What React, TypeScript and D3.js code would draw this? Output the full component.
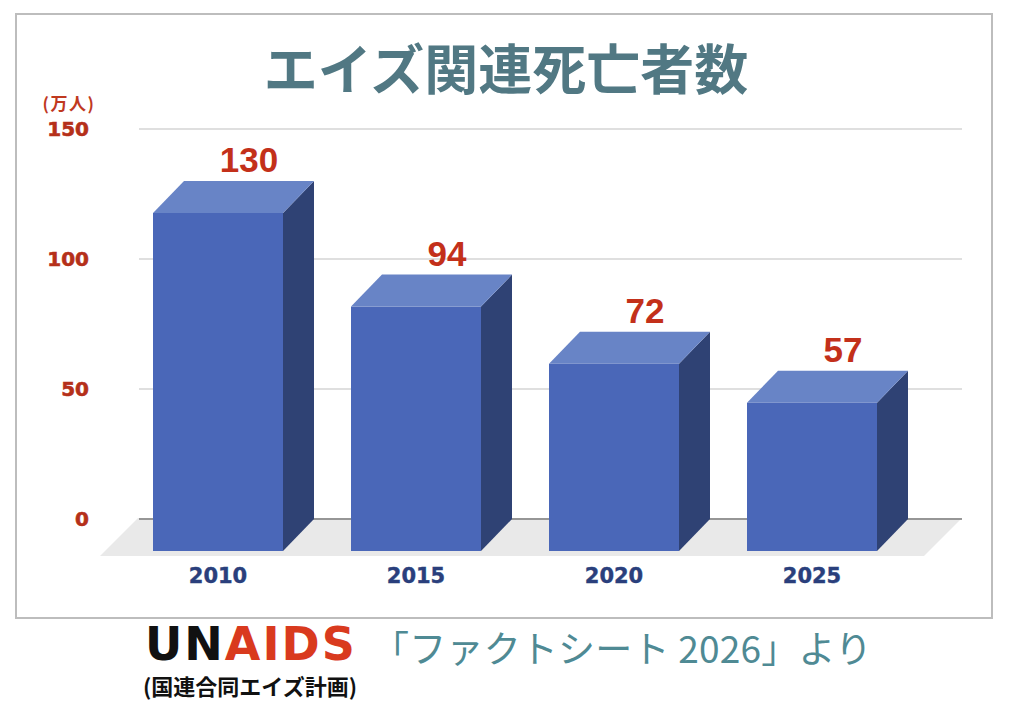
import React from 'react';
import * as d3 from 'd3';

const years = ['2010', '2015', '2020', '2025'];
const deaths = [130, 94, 72, 57];
const yTicks = [0, 50, 100, 150];

const W = 1024;
const H = 710;
const DX = 31; // 3d depth, horizontal
const DY = 32; // 3d depth, vertical

const cjk = '"Noto Sans CJK JP", "Noto Sans", sans-serif';
const wide = '"DejaVu Sans", sans-serif';
const arial = '"Liberation Sans", Arial, sans-serif';

export default function App() {
  const y = d3.scaleLinear().domain([0, 150]).range([519, 129]);
  const x = d3
    .scaleBand<string>()
    .domain(years)
    .range([119, 911])
    .paddingInner(68 / 198)
    .paddingOuter(34 / 198);
  const bw = x.bandwidth();
  const y0 = y(0);

  // floor under the bars
  const floor = [
    [138, y0 - 1],
    [962, y0 - 1],
    [924, y0 + 37],
    [100, y0 + 37],
  ];

  return (
    <svg
      width={W}
      height={H}
      style={{ position: 'absolute', left: 0, top: 0, background: '#fff' }}
    >
      <rect x={16} y={14} width={976} height={604} fill="#fff" stroke="#bdbdbd" strokeWidth={2} />

      <text
        x={506}
        y={66}
        textAnchor="middle"
        dominantBaseline="central"
        fontFamily={cjk}
        fontWeight="bold"
        fontSize={54}
        fill="#517883"
      >
        エイズ関連死亡者数
      </text>

      <text
        x={69}
        y={102.5}
        textAnchor="middle"
        dominantBaseline="central"
        fontFamily={cjk}
        fontWeight="bold"
        fontSize={17}
        letterSpacing={1.5}
        fill="#c0391f"
      >
        (万人)
      </text>

      <polygon points={floor.map((p) => p.join(',')).join(' ')} fill="#e9e9e9" />

      {yTicks.map((t) => (
        <g key={t}>
          <line
            x1={139}
            x2={962}
            y1={y(t)}
            y2={y(t)}
            stroke={t === 0 ? '#7a7a7a' : '#d4d4d4'}
            strokeWidth={1.5}
          />
          <text
            x={89}
            y={y(t)}
            textAnchor="end"
            dominantBaseline="central"
            fontFamily={wide}
            fontWeight="bold"
            fontSize={20}
            fill="#b5301a"
            stroke="#b5301a"
            strokeWidth={0.6}
          >
            {t}
          </text>
        </g>
      ))}

      {years.map((yr, i) => {
        const v = deaths[i];
        const fx = x(yr)!;
        const fy = y(v) + DY;
        const fb = y0 + DY;
        const top = `${fx},${fy} ${fx + DX},${fy - DY} ${fx + bw + DX},${fy - DY} ${fx + bw},${fy}`;
        const side = `${fx + bw},${fy} ${fx + bw + DX},${fy - DY} ${fx + bw + DX},${fb - DY} ${fx + bw},${fb}`;
        return (
          <g key={yr}>
            <polygon points={side} fill="#2f4274" />
            <polygon points={top} fill="#6884c6" />
            <rect x={fx} y={fy} width={bw} height={fb - fy} fill="#4a67b8" />
            <text
              x={fx + DX + bw / 2}
              y={y(v) - 9}
              textAnchor="middle"
              fontFamily={arial}
              fontWeight="bold"
              fontSize={35}
              fill="#c3301a"
            >
              {v}
            </text>
            <text
              x={fx + bw / 2}
              y={576}
              textAnchor="middle"
              dominantBaseline="central"
              fontFamily={wide}
              fontWeight="bold"
              fontSize={21}
              fill="#2a3f7c"
              stroke="#2a3f7c"
              strokeWidth={0.4}
            >
              {yr}
            </text>
          </g>
        );
      })}

      <text x={145} y={660} fontFamily={wide} fontWeight="bold" fontSize={46} letterSpacing={2}>
        <tspan fill="#111">UN</tspan>
        <tspan fill="#d93a1e">AIDS</tspan>
      </text>
      <text x={143} y={685} dominantBaseline="central" fontFamily={cjk} fontWeight="bold" fontSize={22} fill="#111">
        (国連合同エイズ計画)
      </text>

      <text
        x={372}
        y={647}
        dominantBaseline="central"
        fontFamily={cjk}
        fontSize={37}
        fill="#4f8a94"
        textLength={500}
        lengthAdjust="spacing"
      >
        「ファクトシート 2026」より
      </text>
    </svg>
  );
}
